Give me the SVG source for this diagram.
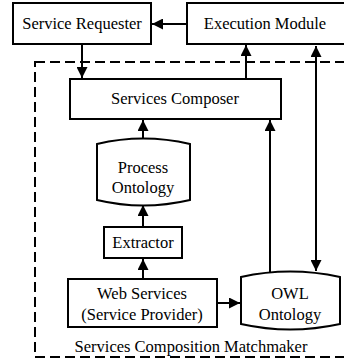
<svg xmlns="http://www.w3.org/2000/svg" width="344" height="364" viewBox="0 0 344 364">
<style>
.box{fill:#fff;stroke:#000;stroke-width:2}
.t{font-family:"Liberation Serif","Times New Roman",Times,serif;font-size:16.5px;fill:#000;text-anchor:middle}
.c{stroke:#000;stroke-width:2;fill:none}
</style>
<defs>
<marker id="ah" viewBox="0 0 10 10" refX="10" refY="5" markerWidth="6" markerHeight="5.5" orient="auto-start-reverse" markerUnits="strokeWidth">
<path d="M0,0 L10,5 L0,10 z" fill="#000"/>
</marker>
</defs>
<rect x="0" y="0" width="344" height="364" fill="#fff"/>
<g id="matchmaker">
<rect x="35" y="62" width="330" height="295" fill="none" stroke="#000" stroke-width="2" stroke-dasharray="10 5"/>
<text class="t" x="191" y="352">Services Composition Matchmaker</text>
</g>
<g id="service-requester">
<rect class="box" x="13" y="3" width="138" height="41"/>
<text class="t" x="82" y="29">Service Requester</text>
</g>
<g id="execution-module">
<rect class="box" x="187" y="3" width="170" height="41"/>
<text class="t" x="265" y="29">Execution Module</text>
</g>
<g id="services-composer">
<rect class="box" x="70" y="79" width="211" height="40"/>
<text class="t" x="175" y="104">Services Composer</text>
</g>
<g id="process-ontology">
<path class="box" d="M97,144 Q143,133 190,144 L190,200 Q143,211 97,200 Z"/>
<text class="t" x="143" y="173">Process</text>
<text class="t" x="143" y="193">Ontology</text>
</g>
<g id="extractor">
<rect class="box" x="104" y="227" width="78" height="31"/>
<text class="t" x="143" y="248">Extractor</text>
</g>
<g id="web-services">
<rect class="box" x="68" y="279" width="149" height="48"/>
<text class="t" x="142" y="299">Web Services</text>
<text class="t" x="142" y="320">(Service Provider)</text>
</g>
<g id="owl-ontology">
<path class="box" d="M241,277 Q290,266 340,277 L340,324 Q290,335 241,324 Z"/>
<text class="t" x="290" y="299">OWL</text>
<text class="t" x="290" y="320">Ontology</text>
</g>
<g id="connectors">
<line class="c" x1="187" y1="24" x2="152" y2="24" marker-end="url(#ah)"/>
<line class="c" x1="82" y1="44" x2="82" y2="78" marker-end="url(#ah)"/>
<line class="c" x1="246" y1="79" x2="246" y2="45" marker-end="url(#ah)"/>
<line class="c" x1="316" y1="46" x2="316" y2="271" marker-start="url(#ah)" marker-end="url(#ah)"/>
<line class="c" x1="270" y1="272" x2="270" y2="120" marker-end="url(#ah)"/>
<line class="c" x1="143" y1="139" x2="143" y2="120" marker-end="url(#ah)"/>
<line class="c" x1="143" y1="227" x2="143" y2="205" marker-end="url(#ah)"/>
<line class="c" x1="143" y1="279" x2="143" y2="259" marker-end="url(#ah)"/>
<line class="c" x1="217" y1="303" x2="240" y2="303" marker-end="url(#ah)"/>
</g>
</svg>
